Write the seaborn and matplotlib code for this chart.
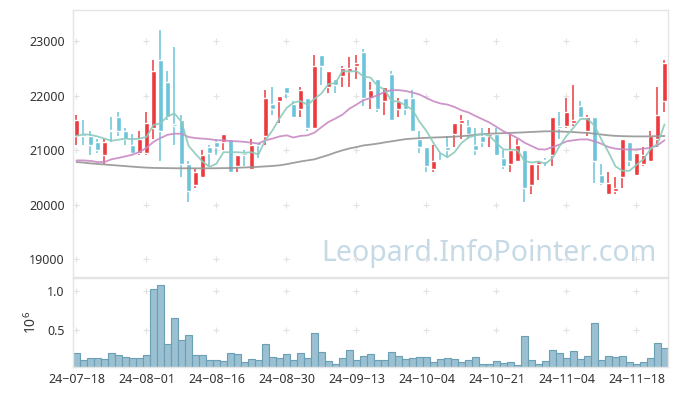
import matplotlib
matplotlib.use('Agg')
import matplotlib.pyplot as plt
import numpy as np
import pandas as pd
import seaborn as sns

# daily candles, 24-07-18 .. 24-11-22 (85 trading days)
opens = [21250, 21300, 21250, 21150, 20900, 21350, 21600, 21350, 21100, 20950,
         20950, 21400, 22650, 22250, 21450, 21550, 20750, 20350, 20500, 21050,
         21150, 21150, 21200, 20700, 20950, 20650, 21150, 21250, 21850, 21900,
         22150, 21850, 21750, 21950, 21400, 22750, 22150, 22300, 22350, 22450,
         22550, 22800, 21950, 22300, 21900, 22400, 21750, 21950, 21950, 21200,
         21050, 20650, 20800, 21050, 21300, 21500, 21450, 21100, 21250, 21250,
         21300, 20850, 20750, 20800, 21000, 20350, 20750, 20800, 20900, 21450,
         21450, 21500, 21800, 21350, 21600, 20550, 20200, 20250, 20500, 21150,
         20550, 20750, 20800, 21200, 21900]
highs = [21650, 21550, 21350, 21200, 21200, 21600, 21700, 21400, 21300, 21350,
         21700, 22650, 23200, 22450, 22900, 21650, 20800, 20650, 21000, 21100,
         21200, 21300, 21200, 20900, 21000, 21200, 21150, 22100, 22150, 22000,
         22150, 21900, 22150, 21950, 22750, 22750, 22450, 22300, 22550, 22700,
         22750, 22850, 22250, 22300, 22150, 22450, 21950, 21950, 22100, 21350,
         21050, 21100, 20950, 21250, 21500, 21650, 21550, 21400, 21400, 21400,
         21400, 21000, 21300, 21200, 21000, 20750, 20800, 20850, 21600, 21700,
         21950, 22200, 21900, 21650, 21600, 20750, 20600, 20500, 21200, 21150,
         20950, 21050, 21350, 22150, 22650]
lows = [21100, 21100, 20900, 20950, 20750, 21150, 21250, 21100, 20900, 20900,
        20900, 21200, 20800, 21550, 21100, 20500, 20050, 20300, 20500, 20700,
        20900, 21000, 20600, 20600, 20700, 20650, 20850, 21100, 21650, 21500,
        21950, 21600, 21600, 21350, 21400, 22200, 22050, 22050, 22150, 22150,
        22300, 21800, 21750, 21700, 21650, 21550, 21600, 21650, 21350, 20950,
        20600, 20600, 20800, 20850, 21050, 21200, 21200, 20900, 21050, 21050,
        20900, 20650, 20600, 20800, 20050, 20200, 20450, 20700, 20700, 21200,
        21400, 21450, 21600, 21250, 20400, 20350, 20200, 20200, 20300, 20700,
        20550, 20700, 20800, 21050, 21700]
closes = [21550, 21250, 21100, 21000, 21150, 21350, 21350, 21200, 20950, 21200,
          21500, 22450, 21350, 21600, 21450, 20750, 20250, 20600, 20900, 20950,
          21050, 21300, 20600, 20900, 20900, 21100, 21100, 21950, 21750, 22000,
          22050, 21600, 22100, 21400, 22550, 22550, 22450, 22200, 22500, 22500,
          22600, 21950, 22100, 21750, 22150, 21550, 21900, 21750, 21350, 21050,
          20700, 20800, 20800, 21000, 21500, 21550, 21300, 21000, 21150, 21300,
          20900, 20700, 21000, 21100, 20300, 20750, 20800, 20800, 21600, 21400,
          21700, 21550, 21600, 21600, 20800, 20400, 20400, 20300, 21200, 20800,
          20950, 20900, 21250, 21650, 22600]
volumes = [209000, 123000, 144000, 144000, 132000, 209000, 183000, 157000, 144000, 144000,
           183000, 1029000, 1068000, 324000, 657000, 375000, 439000, 183000, 183000, 119000,
           119000, 106000, 209000, 196000, 93000, 132000, 119000, 324000, 157000, 144000,
           196000, 119000, 209000, 144000, 465000, 221000, 106000, 68000, 144000, 247000,
           119000, 170000, 196000, 119000, 119000, 221000, 170000, 132000, 144000, 157000,
           157000, 93000, 132000, 144000, 132000, 93000, 119000, 157000, 68000, 68000,
           106000, 80000, 93000, 55000, 426000, 119000, 68000, 106000, 247000, 209000,
           144000, 234000, 132000, 170000, 593000, 119000, 170000, 157000, 170000, 93000,
           68000, 93000, 144000, 337000, 273000]

# moving averages as drawn on the chart
ma5 = [21260, 21290, 21280, 21250, 21210, 21170, 21190, 21210, 21200, 21210,
       21240, 21460, 21490, 21620, 21670, 21520, 21080, 20930, 20790, 20690,
       20750, 20960, 20960, 20960, 20950, 20960, 20920, 21190, 21360, 21580,
       21770, 21870, 21900, 21830, 21940, 22040, 22210, 22230, 22450, 22440,
       22450, 22350, 22330, 22180, 22110, 21900, 21890, 21820, 21740, 21520,
       21350, 21130, 20940, 20870, 20960, 21130, 21230, 21270, 21300, 21260,
       21130, 21010, 21010, 21000, 20800, 20770, 20790, 20750, 20850, 21070,
       21260, 21410, 21570, 21570, 21450, 21190, 20960, 20700, 20620, 20620,
       20730, 20830, 21020, 21110, 21470]
ma20 = [20810, 20810, 20800, 20780, 20780, 20830, 20855, 20885, 20915, 20965,
        21040, 21150, 21220, 21280, 21300, 21300, 21240, 21220, 21210, 21200,
        21180, 21180, 21165, 21160, 21150, 21135, 21120, 21180, 21210, 21250,
        21270, 21230, 21260, 21270, 21320, 21420, 21515, 21580, 21650, 21760,
        21835, 21915, 21955, 22005, 22065, 22100, 22100, 22085, 22055, 22020,
        21955, 21895, 21855, 21835, 21790, 21730, 21690, 21625, 21565, 21505,
        21425, 21345, 21285, 21220, 21135, 21075, 21015, 21010, 21055, 21100,
        21160, 21180, 21195, 21195, 21160, 21115, 21055, 21025, 21015, 21010,
        21010, 21025, 21040, 21085, 21180]
ma60 = [20780, 20770, 20755, 20745, 20735, 20725, 20715, 20705, 20695, 20685,
        20678, 20672, 20670, 20668, 20666, 20665, 20665, 20665, 20665, 20665,
        20666, 20668, 20670, 20675, 20680, 20686, 20692, 20700, 20708, 20720,
        20740, 20765, 20790, 20810, 20830, 20870, 20910, 20955, 20995, 21030,
        21055, 21085, 21100, 21118, 21140, 21160, 21180, 21200, 21210, 21218,
        21224, 21230, 21234, 21240, 21245, 21255, 21265, 21280, 21290, 21300,
        21305, 21310, 21315, 21320, 21325, 21332, 21338, 21344, 21344, 21340,
        21335, 21330, 21320, 21315, 21300, 21285, 21270, 21260, 21255, 21252,
        21250, 21250, 21252, 21255, 21258]

tick_labels = ['24-07-18', '24-08-01', '24-08-16', '24-08-30', '24-09-13',
               '24-10-04', '24-10-21', '24-11-04', '24-11-18']

df = pd.DataFrame({'open': opens, 'high': highs, 'low': lows, 'close': closes,
                   'vol': volumes, 'ma5': ma5, 'ma20': ma20, 'ma60': ma60})
df['idx'] = np.arange(len(df))

sns.set_theme(style='white')
plt.rcParams['font.family'] = ['Noto Sans', 'DejaVu Sans']
plt.rcParams['mathtext.fontset'] = 'custom'
plt.rcParams['mathtext.rm'] = 'Noto Sans'

UP = '#ec3a3e'
DOWN = '#6cc3da'
GRID = '#e2e2e2'
TXT = '#333333'

fig = plt.figure(figsize=(6.77, 3.96), dpi=100)
ax = fig.add_axes([0.1078, 0.3005, 0.8789, 0.6742])
axv = fig.add_axes([0.1078, 0.0732, 0.8789, 0.2253], sharex=ax)

up = df['close'] > df['open']
colors = np.where(up, UP, DOWN)
body_lo = df[['open', 'close']].min(axis=1)
body_h = (df['close'] - df['open']).abs().clip(lower=25)

ax.vlines(df['idx'], df['low'], df['high'], colors=colors, lw=1.1, zorder=2)
ax.bar(df['idx'], body_h, bottom=body_lo, width=0.65, color=colors, zorder=3)

sns.lineplot(data=df, x='idx', y='ma60', ax=ax, color='#959595', lw=1.3, alpha=0.9, zorder=4)
sns.lineplot(data=df, x='idx', y='ma20', ax=ax, color='#c98ac4', lw=1.3, alpha=0.9, zorder=4)
sns.lineplot(data=df, x='idx', y='ma5', ax=ax, color='#8ccbbd', lw=1.3, alpha=0.9, zorder=4)

ax.set_ylim(18670, 23570)
ax.set_xlim(-0.5, len(df) - 0.5)
yt = [19000, 20000, 21000, 22000, 23000]
ax.set_yticks(yt)
ax.set_yticklabels([str(v) for v in yt])
ax.set_ylabel('')
ax.set_xlabel('')
ax.tick_params(axis='x', labelbottom=False, length=0)
ax.tick_params(axis='y', length=0, pad=6, labelsize=9, labelcolor=TXT)

xt = np.arange(0, len(df), 10)
gx, gy = np.meshgrid(xt, yt)
ax.plot(gx.ravel(), gy.ravel(), '+', color=GRID, ms=5, mew=0.8, zorder=1)

ax.text(0.981, 0.09, 'Leopard.InfoPointer.com', transform=ax.transAxes,
        ha='right', va='center', fontsize=20.5, color='#c6dae6', zorder=0)

# volume
axv.bar(df['idx'], df['vol'] / 1e6, width=1.0, color='#9ac0d1',
        edgecolor='#6a9fb6', linewidth=0.8, zorder=2)
axv.set_ylim(0.033, 1.165)
vt = [0.5, 1.0]
axv.set_yticks(vt)
axv.set_yticklabels(['0.5', '1.0'])
gx2, gy2 = np.meshgrid(xt, vt)
axv.plot(gx2.ravel(), gy2.ravel(), '+', color=GRID, ms=5, mew=0.8, zorder=1)
axv.set_xticks(xt)
axv.set_xticklabels([t.replace('-', '\u2212') for t in tick_labels])
axv.tick_params(axis='both', length=0, labelsize=9, labelcolor=TXT)
axv.tick_params(axis='y', pad=6)
axv.tick_params(axis='x', pad=4)
axv.set_ylabel(r'$10^6$', fontsize=10, color=TXT, labelpad=5)

for a in (ax, axv):
    for s in a.spines.values():
        s.set_color('#e4e4e4')
        s.set_linewidth(1.0)

fig.savefig('out.png', dpi=100)
